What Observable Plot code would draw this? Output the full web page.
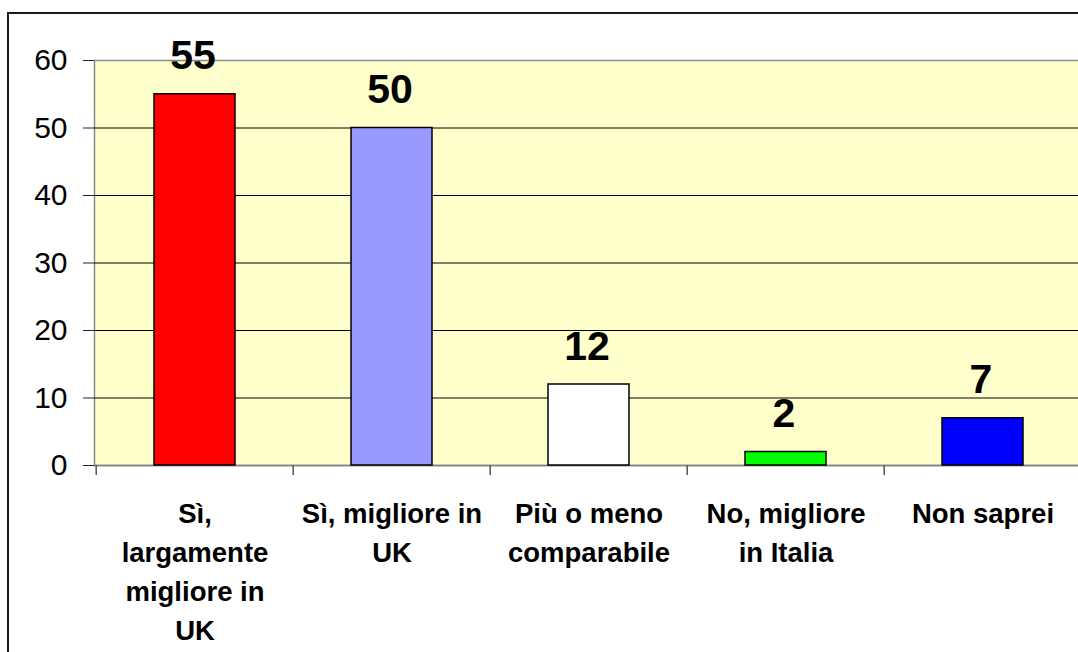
<!DOCTYPE html>
<html><head><meta charset="utf-8">
<script src="https://cdn.jsdelivr.net/npm/d3@7"></script>
<script src="https://cdn.jsdelivr.net/npm/@observablehq/plot@0.6"></script>
<style>
html,body{margin:0;padding:0;background:#fff;overflow:hidden;width:1078px;height:652px;position:relative}
#border{position:absolute;left:7px;top:12px;width:2000px;height:2000px;border-left:2px solid #1a1a1a;border-top:2px solid #1a1a1a;}
#chart{position:absolute;left:0;top:0;width:1090px}
#chart svg{max-width:none !important}
</style></head><body>
<div id="border"></div><div id="chart"></div>
<script>
const categories = ["Sì, largamente migliore in UK","Sì, migliore in UK","Più o meno comparabile","No, migliore in Italia","Non saprei"];
const tickLabels = ["Sì,\nlargamente\nmigliore in\nUK","Sì, migliore in\nUK","Più o meno\ncomparabile","No, migliore\nin Italia","Non saprei"];
const values = [55, 50, 12, 2, 7];
const colors = ["#FF0000", "#9999FF", "#FFFFFF", "#00FF00", "#0000FF"];
const yTicks = [0, 10, 20, 30, 40, 50, 60];
const gridValues = [10, 20, 30, 40, 50];

const data = categories.map((c, i) => ({category: c, value: values[i], color: colors[i]}));

const width = 1090, marginLeft = 94, marginRight = 8;
const step = (width - marginLeft - marginRight) / categories.length;

const chart = Plot.plot({
  width, height: 652,
  marginLeft, marginRight, marginTop: 60, marginBottom: 187,
  style: {fontFamily: "'Liberation Sans', Arial, sans-serif", background: "transparent", color: "#000", maxWidth: "none", overflow: "visible"},
  x: {domain: categories, paddingInner: 0.59, paddingOuter: 0.295},
  y: {domain: [0, 60]},
  color: {type: "identity"},
  marks: [
    Plot.frame({fill: "#FFFFCC", stroke: "#8a8a8a", strokeWidth: 1.5}),
    Plot.ruleY(gridValues, {stroke: "#000", strokeWidth: 1}),
    Plot.ruleY([0], {stroke: "#808080", strokeWidth: 1.5}),
    Plot.barY(data, {x: "category", y: "value", fill: "color", stroke: "#000", strokeWidth: 1.5}),
    Plot.text(data, {x: "category", y: "value", text: d => String(d.value), dx: -2, dy: -25, lineAnchor: "bottom", fontSize: 41, fontWeight: "bold", fill: "#000"}),
    Plot.ruleX(categories, {x: d => d, dx: -step / 2, y1: 0, y2: 0, insetBottom: -10, stroke: "#555", strokeWidth: 1.5}),
    Plot.axisY({ticks: yTicks, tickSize: 11, tickPadding: 16, fontSize: 30, label: null, stroke: "#222"}),
    Plot.axisX({tickSize: 0, tickPadding: 30, fontSize: 27.5, fontWeight: "bold", lineHeight: 1.42, label: null,
      tickFormat: d => tickLabels[categories.indexOf(d)]})
  ]
});
document.getElementById("chart").append(chart);
</script>
</body></html>
